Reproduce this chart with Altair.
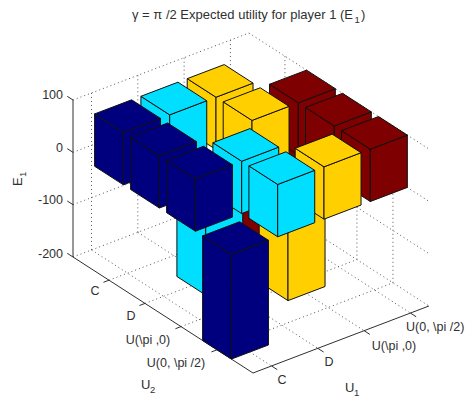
import altair as alt
import pandas as pd

# --- data ---
U1_LABELS = ["C", "D", "U(\\pi ,0)", "U(0, \\pi /2)"]
U2_LABELS = ["C", "D", "U(\\pi ,0)", "U(0, \\pi /2)"]
E1_C = [100, 100, 100, -200]
E1_D = [100, -200, 100, 100]
E1_PI = [100, 100, -200, 100]
E1_PI2 = [-200, 100, 100, 100]
SERIES = [E1_C, E1_D, E1_PI, E1_PI2]
COLORS = ["#00007F", "#00DFFF", "#FFCF00", "#7F0000"]
Z_TICKS = [100, 0, -100, -200]

# --- 3-D view (a fixed oblique projection of the axes box) ---
XLIM = (0.6, 4.4)
YLIM = (0.0, 5.0)
ZLIM = (-200, 100)
ORIGIN = (73.0, 257.0)
UX = (46.3, -17.63)
UY = (36.0, 23.2)
UZ = 0.5233
BAR = 0.4


def proj(x, y, z):
    dx, dy, dz = x - XLIM[0], y - YLIM[0], z - ZLIM[0]
    return (ORIGIN[0] + dx * UX[0] + dy * UY[0],
            ORIGIN[1] + dx * UX[1] + dy * UY[1] - dz * UZ)


def seg_rows(segs):
    rows = []
    for k, (a, b) in enumerate(segs):
        for i, p in enumerate((a, b)):
            px, py = proj(*p)
            rows.append({"px": px, "py": py, "g": f"{k:04d}", "i": i})
    return pd.DataFrame(rows)


# grid
grid = []
x0, x1 = XLIM
y0, y1 = YLIM
z0, z1 = ZLIM
xt = [1, 2, 3, 4]
yt = [1, 2, 3, 4]
for z in Z_TICKS:
    grid.append(((x0, y0, z), (x1, y0, z)))
    grid.append(((x1, y0, z), (x1, y1, z)))
for x in xt:
    grid.append(((x, y0, z0), (x, y0, z1)))
    grid.append(((x, y0, z0), (x, y1, z0)))
for y in yt:
    grid.append(((x1, y, z0), (x1, y, z1)))
    grid.append(((x0, y, z0), (x1, y, z0)))

# axes and ticks
axes = [
    ((x0, y0, z0), (x0, y0, z1)),
    ((x0, y0, z0), (x0, y1, z0)),
    ((x0, y1, z0), (x1, y1, z0)),
]
for z in Z_TICKS:
    axes.append(((x0, y0, z), (x0, y0 - 0.16, z)))
for x in xt:
    axes.append(((x, y1, z0), (x, y1 + 0.16, z0)))
for y in yt:
    axes.append(((x0, y, z0), (x0 - 0.12, y, z0)))

# bars, painted from the back to the front
faces = []
n = 0
for ci in range(3, -1, -1):
    for ri in range(4):
        v = SERIES[ci][ri]
        cx, cy = ci + 1, ri + 1
        lo, hi = min(v, 0), max(v, 0)
        xa, xb = cx - BAR, cx + BAR
        ya, yb = cy - BAR, cy + BAR
        polys = [
            [(xa, ya, lo), (xa, yb, lo), (xa, yb, hi), (xa, ya, hi)],
            [(xa, yb, lo), (xb, yb, lo), (xb, yb, hi), (xa, yb, hi)],
            [(xa, ya, hi), (xa, yb, hi), (xb, yb, hi), (xb, ya, hi)],
        ]
        for poly in polys:
            for i, p in enumerate(poly):
                px, py = proj(*p)
                faces.append({"px": px, "py": py, "g": f"{n:04d}", "i": i, "c": COLORS[ci]})
            n += 1
faces = pd.DataFrame(faces)

# scales map picture coordinates straight to the page
W, H = 460, 390
sx = alt.Scale(domain=[8, 8 + W], range=[0, W], nice=False, zero=False)
sy = alt.Scale(domain=[8, 8 + H], range=[0, H], nice=False, zero=False)
X = alt.X("px:Q", scale=sx, axis=None)
Y = alt.Y("py:Q", scale=sy, axis=None)

grid_l = alt.Chart(seg_rows(grid)).mark_line(
    stroke="#555555", strokeWidth=1, strokeDash=[1, 3]
).encode(x=X, y=Y, detail="g:N", order="i:Q")
axes_l = alt.Chart(seg_rows(axes)).mark_line(
    stroke="#303030", strokeWidth=1
).encode(x=X, y=Y, detail="g:N", order="i:Q")
bars_l = alt.Chart(faces).mark_line(
    stroke="#101010", strokeWidth=1, interpolate="linear-closed"
).encode(x=X, y=Y, detail="g:N", order="i:Q",
         fill=alt.Fill("c:N", scale=None))

FONT = "Liberation Sans"
TXT = "#303030"
TS = 12.5


def text(rows, size=TS, **kw):
    df = pd.DataFrame(rows, columns=["px", "py", "t"])
    return alt.Chart(df).mark_text(font=FONT, fontSize=size, color=TXT, **kw).encode(
        x=X, y=Y, text="t:N")


z_rows = [(63, yy, str(t)) for t, yy in zip(Z_TICKS, [95, 147.5, 200, 253.5])]
u2_rows = list(zip([95, 131, 148, 176], [291, 316, 340, 363], U2_LABELS))
u1_rows = list(zip([282, 329, 394], [380, 362, 346], U1_LABELS[:3]))

layers = [
    grid_l, axes_l, bars_l,
    text(z_rows, align="right", baseline="middle"),
    text(u2_rows, align="center", baseline="middle"),
    text(u1_rows, align="center", baseline="middle"),
    text([(406, 327, U1_LABELS[3])], align="left", baseline="middle"),
    text([(132, 19, "\u03b3 = \u03c0 /2 Expected utility for player 1 (E")], size=13, align="left", baseline="alphabetic"),
    text([(354.5, 23, "1")], size=9.5, align="left", baseline="alphabetic"),
    text([(361, 19, ")")], size=13, align="left", baseline="alphabetic"),
    text([(22, 186, "E")], size=13, angle=270, align="left", baseline="alphabetic"),
    text([(26, 177, "1")], size=9.5, angle=270, align="left", baseline="alphabetic"),
    text([(141, 389, "U")], size=13, align="left", baseline="alphabetic"),
    text([(150, 393, "2")], size=9.5, align="left", baseline="alphabetic"),
    text([(345, 392, "U")], size=13, align="left", baseline="alphabetic"),
    text([(354, 396, "1")], size=9.5, align="left", baseline="alphabetic"),
]

chart = alt.layer(*layers).properties(
    width=W, height=H, padding=0,
    autosize=alt.AutoSizeParams(type="none"),
).configure_view(stroke=None)

chart.save("out.html", embed_options={"renderer": "svg", "actions": False})
